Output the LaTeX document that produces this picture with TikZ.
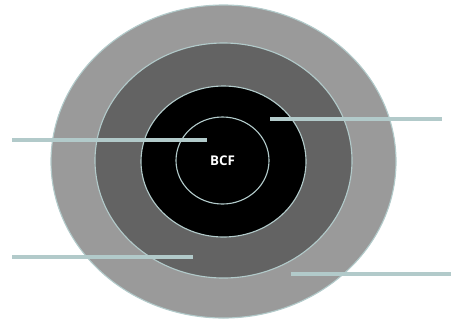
\documentclass[tikz,border=0pt]{standalone}
\usepackage{fontspec}
\setsansfont{Open Sans}
\usepackage{xcolor}
\usepackage{tikz}
\usetikzlibrary{shapes.geometric,positioning,calc}

\definecolor{ringlight}{HTML}{9A9A9A}
\definecolor{ringmid}{HTML}{636363}
\definecolor{edgeteal}{HTML}{B2CACA}

\begin{document}
\begin{tikzpicture}[
  x=0.025cm, y=-0.025cm,
  ring/.style={
    ellipse, draw=edgeteal, line width=0.8pt, inner sep=0pt
  },
  leader/.style={draw=edgeteal, line width=2.3pt}
]
\useasboundingbox (0,0) rectangle (451,324);

% Concentric rings
\node[ring, fill=ringlight, minimum width=345*0.025cm, minimum height=313*0.025cm] (outer) at (223.5,161.5) {};
\node[ring, fill=ringmid, minimum width=257*0.025cm, minimum height=235*0.025cm] (middle) at (223.5,160.5) {};
\node[ring, fill=black, minimum width=165*0.025cm, minimum height=151*0.025cm] (core) at (223.5,161.5) {};
\node[ring, fill=black, minimum width=93*0.025cm, minimum height=87*0.025cm] (bcf) at (222.5,160.5) {};
\node[text=white, font=\sffamily\bfseries\fontsize{9.5}{11}\selectfont] (label) at (bcf.center) {BCF};

% Leader line ends
\coordinate (l1a) at (12,140);  \coordinate (l1b) at (207,140);
\coordinate (l2a) at (270,119); \coordinate (l2b) at (442,119);
\coordinate (l3a) at (12,257);  \coordinate (l3b) at (193,257);
\coordinate (l4a) at (291,274); \coordinate (l4b) at (451,274);

% Leader lines
\draw[leader] (l1a) -- (l1b);
\draw[leader] (l2a) -- (l2b);
\draw[leader] (l3a) -- (l3b);
\draw[leader] (l4a) -- (l4b);

\end{tikzpicture}
\end{document}
